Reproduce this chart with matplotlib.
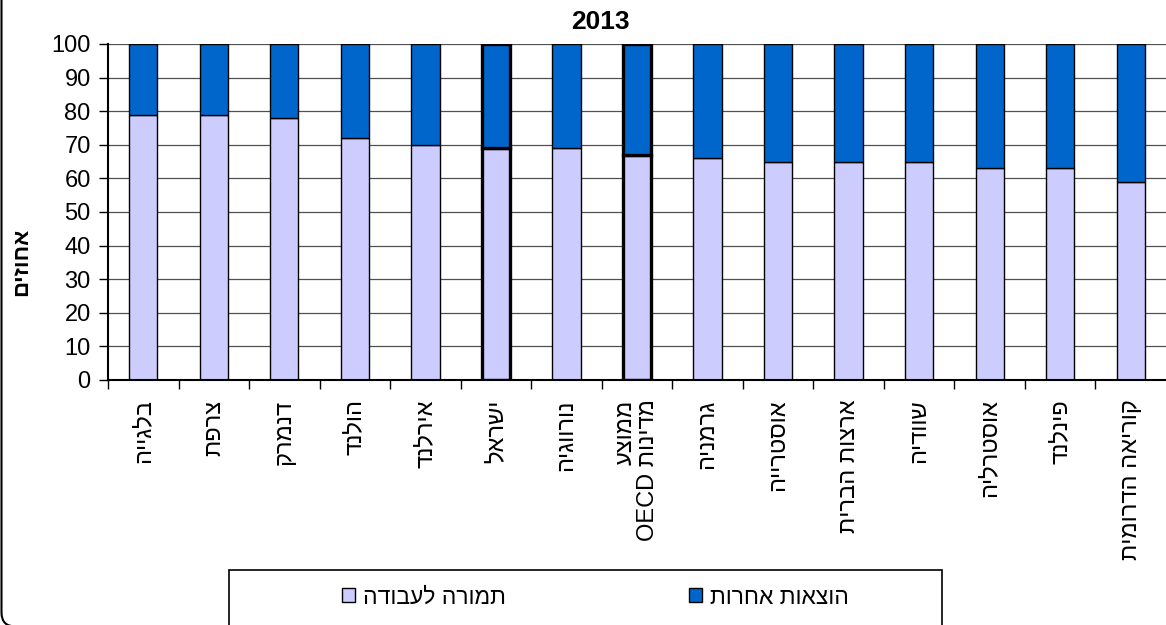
import matplotlib
matplotlib.use('Agg')
import matplotlib.pyplot as plt
from matplotlib.patches import Rectangle, FancyBboxPatch
from matplotlib.transforms import IdentityTransform
from matplotlib.ticker import FixedLocator

plt.rcParams['font.family'] = ['Liberation Sans', 'DejaVu Sans']

countries = ['בלגייה', 'צרפת', 'דנמרק', 'הולנד', 'אירלנד', 'ישראל', 'נורווגיה',
             'ממוצע\nמדינות OECD', 'גרמניה', 'אוסטרייה', 'ארצות הברית', 'שוודיה',
             'אוסטרליה', 'פינלנד', 'קוריאה הדרומית']
labor = [79, 79, 78, 72, 70, 69, 69, 67, 66, 65, 65, 65, 63, 63, 59]
other = [21, 21, 22, 28, 30, 31, 31, 33, 34, 35, 35, 35, 37, 37, 41]
highlight = ['ישראל', 'ממוצע\nמדינות OECD']
yticks = [0, 10, 20, 30, 40, 50, 60, 70, 80, 90, 100]
title = '2013'
ylabel = 'אחוזים'
legend_labels = ['תמורה לעבודה', 'הוצאות אחרות']


def rtl(s):
    # matplotlib has no bidi: flip each line by hand, keep latin words as they are
    lines = []
    for line in s.split('\n'):
        words = line.split(' ')
        lines.append(' '.join(w if w.isascii() else w[::-1] for w in reversed(words)))
    return '\n'.join(lines)


light = '#CCCCFF'
dark = '#0066CC'

fig = plt.figure(figsize=(11.66, 6.25), dpi=100)
ax = fig.add_axes([108 / 1166, 1 - 380 / 625, 1058 / 1166, 336 / 625])

x = list(range(len(countries)))
b1 = ax.bar(x, labor, width=0.4, color=light, edgecolor='black', linewidth=1.0, zorder=2)
b2 = ax.bar(x, other, bottom=labor, width=0.4, color=dark, edgecolor='black', linewidth=1.0, zorder=2)
for i, c in enumerate(countries):
    if c in highlight:
        b1[i].set_linewidth(2.4)
        b2[i].set_linewidth(2.4)

ax.set_xlim(-0.5, len(countries) - 0.5)
ax.set_ylim(0, 100)
ax.set_yticks(yticks)
ax.yaxis.grid(True, color='#505050', linewidth=0.9)
ax.set_axisbelow(True)
ax.tick_params(axis='y', labelsize=17, length=6.5, width=1, pad=6)

ax.set_xticks(x)
ax.set_xticklabels([rtl(c) for c in countries], rotation=90, va='top', ha='center',
                   ma='right', fontsize=17, linespacing=1.0)
ax.tick_params(axis='x', which='major', length=0, pad=14)
ax.xaxis.set_minor_locator(FixedLocator([i - 0.5 for i in x]))
ax.tick_params(axis='x', which='minor', length=6.5, width=1)

for s in ['top', 'right']:
    ax.spines[s].set_visible(False)
ax.spines['left'].set_linewidth(1.5)
ax.spines['bottom'].set_linewidth(1.5)

fig.text(600 / 1166, 1 - 22 / 625, title, fontsize=19, fontweight='bold', ha='center', va='center')
fig.text(22 / 1166, 1 - 262 / 625, rtl(ylabel), fontsize=16, fontweight='bold',
         rotation=90, ha='center', va='center')

# legend box (runs off the bottom edge)
fig.patches.append(Rectangle((229, -20), 713, 625 - 570 + 20, fill=False, edgecolor='black',
                             linewidth=1.2, transform=IdentityTransform(), figure=fig))
fig.legend([b1, b2], [rtl(l) for l in legend_labels], ncol=2, frameon=False,
           loc='center left', bbox_to_anchor=(331 / 1166, 28 / 625), borderpad=0,
           handlelength=0.55, handleheight=0.55, handletextpad=0.35, columnspacing=8.0,
           fontsize=16.5)

# rounded outer border of the chart area
fig.patches.append(FancyBboxPatch((1.5, -1.5), 1400, 900, boxstyle='round,pad=0,rounding_size=14',
                                  fill=False, edgecolor='black', linewidth=1.5,
                                  transform=IdentityTransform(), figure=fig))

fig.savefig('out.png', dpi=100)
